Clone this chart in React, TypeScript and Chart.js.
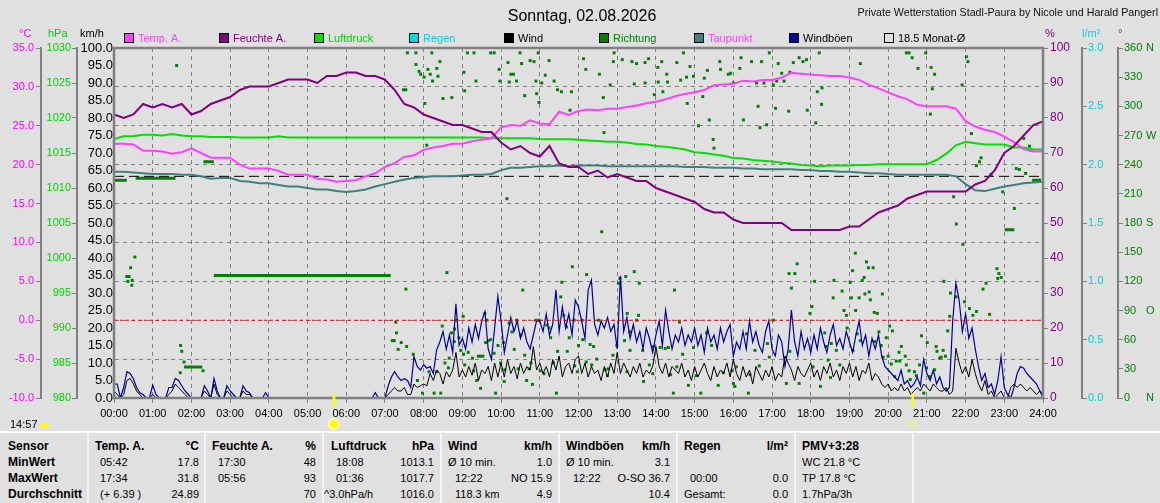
import React, { useEffect, useRef } from 'react';
import { Chart, registerables } from 'chart.js';

Chart.register(...registerables);

const FONT = '"Liberation Sans", Arial, Helvetica, sans-serif';

// ---------- DATA ----------
const titleText = 'Sonntag, 02.08.2026';
const creditText = 'Private Wetterstation Stadl-Paura by Nicole und Harald Pangerl';

const hourLabels = ['00:00', '01:00', '02:00', '03:00', '04:00', '05:00', '06:00', '07:00', '08:00', '09:00', '10:00', '11:00', '12:00',
  '13:00', '14:00', '15:00', '16:00', '17:00', '18:00', '19:00', '20:00', '21:00', '22:00', '23:00', '24:00'];

// 15-minute samples, 00:00 .. 24:00
const tempValues = [
  22.7, 22.7, 22.6, 21.8, 21.8, 21.7, 21.4, 21.6, 22.1, 21.5, 20.9, 20.9,
  20.9, 20.0, 19.5, 19.5, 19.5, 19.2, 18.7, 18.7, 18.7, 18.2, 18.1, 17.8,
  17.9, 18.0, 18.5, 18.9, 19.7, 20.2, 21.0, 21.2, 21.9, 22.2, 22.4, 22.7,
  22.7, 23.0, 23.2, 23.4, 24.8, 25.1, 25.0, 25.7, 25.3, 25.2, 26.8, 26.4,
  26.9, 27.1, 27.0, 27.2, 27.2, 27.4, 27.6, 27.9, 28.1, 28.4, 28.8, 29.1,
  29.3, 29.6, 30.2, 30.3, 30.4, 30.8, 30.7, 30.9, 30.9, 31.2, 31.8, 31.7,
  31.6, 31.5, 31.4, 31.4, 31.2, 30.9, 30.3, 29.8, 29.3, 28.8, 28.4, 27.7,
  27.5, 27.5, 27.5, 27.2, 25.6, 24.9, 24.5, 24.2, 23.6, 22.9, 22.0, 21.7,
  21.7,
];
const humidityValues = [
  81, 80, 81, 84, 83, 84, 83, 84, 81, 82, 84, 85,
  86, 88, 89, 89, 89, 90, 91, 91, 91, 90, 92, 92,
  93, 93, 92, 92, 91, 88, 84, 83, 81, 80, 79, 78,
  78, 77, 76, 76, 73, 71, 72, 70, 69, 72, 67, 66,
  66, 64, 65, 63, 64, 63, 62, 62, 60, 59, 58, 57,
  56, 54, 53, 53, 51, 50, 50, 50, 50, 50, 48, 48,
  48, 48, 48, 48, 49, 49, 51, 53, 54, 55, 57, 58,
  59, 59, 59, 59, 59, 61, 62, 65, 70, 72, 75, 78,
  79,
];
const pressureValues = [
  1017.0, 1017.4, 1017.4, 1017.6, 1017.6, 1017.5, 1017.7, 1017.5, 1017.4, 1017.4, 1017.3, 1017.3,
  1017.3, 1017.2, 1017.2, 1017.2, 1017.2, 1017.4, 1017.2, 1017.2, 1017.2, 1017.2, 1017.2, 1017.2,
  1017.2, 1017.2, 1017.2, 1017.2, 1017.2, 1017.2, 1017.2, 1017.2, 1017.2, 1017.2, 1017.2, 1017.2,
  1017.2, 1017.2, 1017.2, 1017.1, 1017.1, 1017.1, 1017.1, 1017.1, 1017.0, 1016.95, 1016.95, 1016.95,
  1016.9, 1016.8, 1016.7, 1016.6, 1016.6, 1016.5, 1016.3, 1016.2, 1016.0, 1015.9, 1015.7, 1015.5,
  1015.1, 1015.0, 1014.8, 1014.6, 1014.3, 1014.2, 1014.0, 1013.9, 1013.8, 1013.6, 1013.5, 1013.3,
  1013.2, 1013.1, 1013.2, 1013.2, 1013.2, 1013.3, 1013.3, 1013.4, 1013.4, 1013.4, 1013.4, 1013.4,
  1013.4, 1014.0, 1014.9, 1016.1, 1016.6, 1016.4, 1016.2, 1016.2, 1016.2, 1015.8, 1015.8, 1015.5,
  1015.5,
];
const dewpointValues = [
  19.1, 19.1, 19.0, 18.9, 18.8, 18.8, 18.8, 18.7, 18.7, 18.5, 18.2, 18.3,
  18.3, 17.9, 17.8, 17.6, 17.6, 17.4, 17.2, 17.2, 17.0, 16.8, 16.8, 16.6,
  16.5, 16.6, 16.8, 17.2, 17.5, 17.8, 18.1, 18.3, 18.4, 18.5, 18.5, 18.5,
  18.6, 18.7, 18.7, 18.8, 19.3, 19.6, 19.6, 19.7, 19.8, 19.8, 19.9, 19.8,
  19.9, 19.9, 19.9, 19.8, 19.8, 19.8, 19.8, 19.8, 19.8, 19.8, 19.8, 19.7,
  19.7, 19.7, 19.6, 19.6, 19.6, 19.5, 19.5, 19.4, 19.4, 19.4, 19.4, 19.3,
  19.3, 19.2, 19.2, 19.1, 19.1, 19.0, 18.9, 18.9, 18.8, 18.7, 18.7, 18.7,
  18.7, 18.7, 18.7, 18.5, 17.5, 16.7, 16.6, 16.9, 17.2, 17.4, 17.6, 17.7,
  17.8,
];

// 5-minute samples, 00:00 .. 24:00 (km/h)
const gustValues = [
  4, 4, 0, 3, 7.5, 7, 5.5, 3, 1.5, 1, 0, 0,
  3.7, 1, 0, 0, 0, 3, 3, 5.6, 5, 3.5, 2, 1,
  0, 0, 0, 0, 3.5, 2, 0, 5.6, 2, 0, 0, 3.5,
  2, 1, 0, 0, 3.5, 2, 1.5, 0, 0, 0, 0, 1.5,
  0, 0, 0, 0, 0, 0, 0, 0, 0, 0, 0, 0,
  0, 0, 0, 0, 0, 0, 0, 0, 0, 0, 0, 0,
  0, 0, 0, 0, 0, 0, 0, 0, 0, 1.5, 0, 0,
  0, 3.5, 6, 7.5, 6, 5, 5.5, 5, 3, 11.8, 9, 8,
  9.5, 8.5, 9, 7, 13.7, 16, 19, 14, 18, 13, 26.9, 15,
  17, 14, 20, 16, 21, 17, 22, 24.7, 14, 11, 20, 29,
  22, 13, 18, 23, 19, 22, 17, 20, 16, 14, 18, 22,
  22, 19, 24, 18, 21, 30.9, 19, 26, 20, 24, 18, 28,
  26, 22, 17, 30.9, 33.7, 21, 18, 22, 20, 23, 19, 21,
  14, 34.9, 19, 23, 17, 21, 16, 19, 14, 20, 17, 13,
  18, 22, 15, 25.1, 19, 14, 18, 16, 20, 15, 18, 16,
  20, 15, 18, 13, 20, 16, 18, 14, 20, 16, 19, 21,
  12, 16, 14, 19, 14, 22, 16, 19, 15, 13, 19, 22,
  14, 12, 18, 16, 9, 14, 25.1, 16, 12, 19, 14, 17,
  13, 18, 14, 20, 16, 13, 18, 21, 15, 17, 14, 19,
  16, 13, 18, 22, 15, 18, 12, 17, 14, 18, 12, 9,
  8, 7, 6, 5, 8, 4, 5, 3, 4, 6, 3.5, 11,
  7, 5, 8, 4, 6, 3, 2, 3, 22, 32.8, 28, 19,
  24, 17, 20, 14, 9, 5, 7, 3, 4, 1, 5, 11.8,
  3, 1, 0, 3, 7, 9, 8.5, 7, 6, 5, 4, 2,
  1,
];
const windValues = [
  2, 1, 0, 1, 5, 5.6, 4, 2, 1, 0, 0, 0,
  1, 0, 0, 0, 0, 1, 2, 4, 3, 2, 1, 0,
  0, 0, 0, 0, 2, 1, 0, 4, 1, 0, 0, 2,
  1, 0, 0, 0, 2, 1, 1, 0, 0, 0, 0, 0,
  0, 0, 0, 0, 0, 0, 0, 0, 0, 0, 0, 0,
  0, 0, 0, 0, 0, 0, 0, 0, 0, 0, 0, 0,
  0, 0, 0, 0, 0, 0, 0, 0, 0, 0, 0, 0,
  0, 1, 2, 3, 2, 2, 3, 1, 1, 4, 3, 3.5,
  4, 3.5, 7, 5, 8, 7, 4, 7.5, 6, 8, 13, 6,
  8, 6, 9, 6.5, 10, 5, 8, 7, 9, 5, 10, 6,
  10, 6, 11, 7, 9, 5.5, 10, 7, 9, 8, 14.7, 8,
  10, 7, 9, 6, 11, 8, 12, 6, 9, 10, 7, 11,
  12, 7, 10, 6, 9, 7, 8, 5, 9, 6, 10, 7,
  13, 7, 10, 8, 6, 9, 7, 10, 6, 8, 7, 9,
  14.7, 9, 7, 10, 6, 9, 8, 7, 10, 6, 8, 5,
  9, 6, 8, 10, 7, 5, 9, 6, 8, 7, 10, 6,
  11, 7, 5, 9, 6, 8, 4, 9, 7, 5, 8, 6,
  9, 5, 7, 6, 12, 10, 8, 5, 9, 7, 6, 8,
  10, 6, 8, 5, 9, 7, 10, 6, 8, 5, 9, 7,
  10, 6, 9, 5, 8, 7, 10, 5, 7, 6, 4, 3,
  4, 2, 3, 2, 4, 2, 3, 1, 2, 3, 2, 4,
  3, 2, 4, 3, 2, 2, 3, 1, 2, 14.2, 10, 7,
  9, 6, 11, 7, 4, 2, 5, 1, 2, 0, 1, 2,
  0, 0, 3, 4, 3, 4, 3, 2, 3, 2, 1, 2,
  0,
];

const rainHours = [0, 24];
const rainValues = [0, 0];
const monthAvgTemp = 18.5;
const frostTemp = 0;

// wind direction samples [hour, degrees]
const dirDots = [
  [0.33, 125], [0.36, 120], [0.39, 125], [0.43, 134], [0.46, 116], [0.47, 121], [0.54, 145],
  [1.62, 342], [1.71, 26], [1.72, 54], [1.75, 48], [1.81, 37], [2.30, 28],
  [7.19, 59], [7.24, 59], [7.28, 78], [7.30, 67], [7.34, 50], [7.42, 57], [7.48, 317], [7.54, 317], [7.54, 112], [7.56, 53], [7.58, 355], [7.73, 45], [7.80, 355], [7.80, 343], [7.84, 18], [7.88, 336], [7.92, 333], [7.97, 5],
  [8.01, 330], [8.03, 303], [8.08, 260], [8.11, 338], [8.14, 27], [8.17, 333], [8.21, 355], [8.23, 326], [8.27, 5], [8.34, 339], [8.34, 27], [8.37, 331], [8.42, 346], [8.44, 5], [8.48, 74], [8.50, 308], [8.55, 36], [8.60, 129], [8.64, 31], [8.66, 41], [8.72, 67], [8.73, 309], [8.79, 58], [8.80, 71], [8.85, 80], [8.91, 62], [8.96, 49],
  [9.02, 84], [9.03, 45], [9.04, 335], [9.06, 34], [9.06, 316], [9.13, 355], [9.15, 47], [9.26, 41], [9.29, 28], [9.30, 355], [9.35, 326], [9.37, 18], [9.41, 43], [9.47, 43], [9.53, 43], [9.47, 10], [9.58, 87], [9.60, 57], [9.63, 80], [9.67, 59], [9.73, 60], [9.73, 355], [9.82, 46], [9.82, 355], [9.86, 5], [9.92, 54], [9.95, 338], [9.97, 326], [9.99, 36],
  [10.06, 57], [10.08, 17], [10.10, 29], [10.15, 205], [10.18, 345], [10.21, 77], [10.21, 325], [10.25, 333], [10.28, 68], [10.32, 333], [10.34, 50], [10.40, 80], [10.40, 326], [10.44, 30], [10.49, 355], [10.51, 65], [10.53, 344], [10.56, 111], [10.61, 44], [10.61, 311], [10.66, 18], [10.72, 30], [10.75, 347], [10.77, 36], [10.81, 14], [10.85, 346], [10.90, 80], [10.90, 326], [10.92, 313], [10.96, 355], [10.98, 80], [10.98, 304],
  [11.01, 28], [11.05, 324], [11.11, 25], [11.14, 332], [11.18, 75], [11.24, 72], [11.24, 347], [11.28, 62], [11.35, 36], [11.37, 326], [11.43, 5], [11.46, 48], [11.46, 317], [11.54, 104], [11.56, 315], [11.57, 119], [11.62, 85], [11.69, 73], [11.71, 48], [11.76, 62], [11.78, 296], [11.82, 315], [11.84, 135], [11.89, 80], [11.90, 33], [11.97, 27],
  [12.00, 54], [12.09, 80], [12.11, 60], [12.13, 349], [12.19, 338], [12.20, 37], [12.21, 127], [12.30, 55], [12.34, 34], [12.39, 53], [12.47, 40], [12.52, 80], [12.54, 333], [12.60, 171], [12.64, 309], [12.66, 273], [12.69, 29], [12.75, 23], [12.77, 30], [12.82, 322], [12.89, 44], [12.90, 346], [12.92, 355], [12.99, 54],
  [13.03, 118], [13.07, 123], [13.13, 348], [13.19, 59], [13.22, 125], [13.25, 27], [13.26, 87], [13.32, 68], [13.33, 49], [13.38, 346], [13.44, 130], [13.44, 323], [13.50, 80], [13.50, 344], [13.55, 85], [13.57, 118], [13.66, 49], [13.68, 17], [13.72, 345], [13.72, 324], [13.81, 349], [13.83, 34], [13.92, 25], [13.93, 53], [13.96, 312],
  [14.05, 340], [14.06, 325], [14.11, 52], [14.15, 346], [14.18, 315], [14.24, 51], [14.28, 333], [14.30, 325], [14.32, 52], [14.38, 24], [14.45, 5], [14.48, 111], [14.54, 32], [14.54, 345], [14.61, 78], [14.64, 327], [14.69, 45], [14.71, 355], [14.79, 330], [14.81, 303], [14.84, 13], [14.88, 341], [14.97, 52], [14.97, 331],
  [15.04, 23], [15.10, 280], [15.16, 5], [15.21, 310], [15.25, 329], [15.31, 67], [15.33, 337], [15.38, 286], [15.44, 54], [15.48, 266], [15.50, 257], [15.61, 13], [15.65, 346], [15.67, 338], [15.74, 26], [15.87, 333], [15.93, 334], [15.96, 28],
  [16.00, 15], [16.00, 324], [16.04, 12], [16.08, 32], [16.17, 339], [16.20, 350], [16.26, 286], [16.34, 66], [16.39, 5], [16.43, 24], [16.47, 346], [16.56, 49], [16.60, 324], [16.64, 300], [16.67, 33], [16.69, 278], [16.73, 346], [16.79, 324], [16.86, 281], [16.88, 56], [16.93, 42], [16.93, 355],
  [17.03, 80], [17.03, 322], [17.09, 298], [17.12, 326], [17.16, 344], [17.25, 334], [17.31, 326], [17.37, 15], [17.43, 295], [17.44, 128], [17.46, 48], [17.46, 335], [17.50, 113], [17.55, 345], [17.59, 128], [17.65, 138], [17.70, 15], [17.70, 350], [17.80, 346], [17.89, 348], [17.91, 296], [17.98, 87],
  [18.03, 94], [18.06, 32], [18.10, 120], [18.13, 283], [18.17, 315], [18.22, 355], [18.25, 12], [18.28, 302], [18.29, 319], [18.36, 67], [18.39, 53], [18.45, 39], [18.51, 21], [18.53, 56], [18.58, 103], [18.60, 121], [18.66, 49], [18.75, 34], [18.81, 110], [18.86, 90], [18.92, 85], [18.94, 72],
  [19.02, 119], [19.05, 103], [19.08, 131], [19.09, 49], [19.15, 149], [19.16, 90], [19.20, 66], [19.25, 103], [19.28, 59], [19.28, 344], [19.33, 121], [19.38, 124], [19.40, 107], [19.44, 140], [19.49, 134], [19.51, 109], [19.54, 101], [19.61, 134], [19.64, 88], [19.65, 58], [19.72, 87], [19.76, 68], [19.82, 54], [19.85, 107], [19.87, 42], [19.95, 62],
  [20.00, 43], [20.04, 74], [20.08, 35], [20.11, 69], [20.17, 22], [20.21, 38], [20.28, 47], [20.30, 38], [20.34, 53], [20.44, 43], [20.47, 34], [20.47, 355], [20.54, 28], [20.54, 355], [20.57, 19], [20.62, 350], [20.68, 27], [20.73, 23], [20.77, 339], [20.81, 34], [20.86, 64], [20.92, 5], [20.97, 355], [20.99, 31],
  [21.01, 57], [21.07, 22], [21.09, 292], [21.11, 340], [21.14, 318], [21.20, 29], [21.20, 333], [21.24, 53], [21.26, 48], [21.33, 41], [21.37, 42], [21.42, 49], [21.44, 120], [21.48, 43], [21.54, 69], [21.59, 84], [21.61, 108], [21.69, 207], [21.76, 104], [21.76, 179], [21.91, 322], [21.93, 158], [21.97, 99],
  [22.02, 351], [22.06, 346], [22.10, 92], [22.15, 272], [22.19, 85], [22.28, 89], [22.28, 239], [22.36, 243], [22.40, 247], [22.45, 112], [22.53, 118], [22.62, 86], [22.66, 230], [22.81, 133], [22.83, 123], [22.86, 128], [22.92, 124], [22.96, 212],
  [23.26, 195], [23.31, 236], [23.39, 235], [23.50, 267], [23.55, 231], [23.65, 259], [23.69, 255],
];
// held direction during calm: [from hour, to hour, degrees]
const dirHolds = [
  [0, 0.33, 224], [0.56, 1.59, 226], [1.81, 2.28, 32], [2.31, 2.58, 243], [2.58, 7.15, 126],
  [23.01, 23.26, 173], [23.72, 23.95, 224],
];
const compassMarks = [[360, 'N'], [270, 'W'], [180, 'S'], [90, 'O'], [0, 'N']];

const sunrise = 5.68;
const sunset = 20.63;
const dayLength = '14:57';

const legendItems = [
  { label: 'Temp. A.', box: '#ff40ff', text: '#ff40ff' },
  { label: 'Feuchte A.', box: '#800080', text: '#800080' },
  { label: 'Luftdruck', box: '#00e000', text: '#00d000' },
  { label: 'Regen', box: '#00dce0', text: '#00d0e0' },
  { label: 'Wind', box: '#000000', text: '#000000' },
  { label: 'Richtung', box: '#008000', text: '#008000' },
  { label: 'Taupunkt', box: '#408080', text: '#ff40ff' },
  { label: 'Windböen', box: '#0000a0', text: '#000000' },
  { label: monthAvgTemp.toFixed(1) + ' Monat-Ø', box: null, text: '#000000' },
];

const sensorLabels = ['Sensor', 'MinWert', 'MaxWert', 'Durchschnitt'];
const tableColumns = [
  { head: 'Temp. A.', unit: '°C', left: ['05:42', '17:34', '(+ 6.39 )'], right: ['17.8', '31.8', '24.89'] },
  { head: 'Feuchte A.', unit: '%', left: ['17:30', '05:56', ''], right: ['48', '93', '70'] },
  { head: 'Luftdruck', unit: 'hPa', left: ['18:08', '01:36', '^3.0hPa/h'], right: ['1013.1', '1017.7', '1016.0'] },
  { head: 'Wind', unit: 'km/h', left: ['Ø 10 min.', '12:22', '118.3 km'], right: ['1.0', 'NO 15.9', '4.9'] },
  { head: 'Windböen', unit: 'km/h', left: ['Ø 10 min.', '12:22', ''], right: ['3.1', 'O-SO 36.7', '10.4'] },
  { head: 'Regen', unit: 'l/m²', left: ['', '00:00', 'Gesamt:'], right: ['', '0.0', '0.0'] },
];
const pmvLines = ['PMV+3:28', 'WC 21.8 °C', 'TP 17.8 °C', '1.7hPa/3h'];

// ---------- COLOURS ----------
const C = {
  bg: '#e0e0e0',
  grid: '#808080',
  temp: '#ff40ff',
  hum: '#800080',
  press: '#00e000',
  dew: '#408080',
  rain: '#3cc8d0',
  wind: '#000000',
  gust: '#0000a0',
  dir: '#008000',
};

const q15 = (vals: number[]) => vals.map((v, i) => ({ x: (i * 15) / 60, y: v }));
const q5 = (vals: number[]) => vals.map((v, i) => ({ x: (i * 5) / 60, y: v }));

const decorPlugin = {
  id: 'decor',
  afterDraw(chart: any) {
    const { ctx, chartArea: a, scales } = chart;
    ctx.save();
    // plot frame
    ctx.strokeStyle = C.grid;
    ctx.lineWidth = 2.5;
    ctx.strokeRect(a.left, a.top, a.right - a.left, a.bottom - a.top);

    // title + credit
    ctx.textBaseline = 'alphabetic';
    ctx.fillStyle = '#000';
    ctx.font = `16px ${FONT}`;
    ctx.textAlign = 'center';
    ctx.fillText(titleText, 582, 21);
    ctx.font = `10.7px ${FONT}`;
    ctx.textAlign = 'right';
    ctx.fillStyle = '#101010';
    ctx.fillText(creditText, 1158, 16);

    // axis units
    ctx.font = `11px ${FONT}`;
    ctx.textAlign = 'left';
    const units: [string, string, number][] = [
      ['°C', '#ff00ff', 19], ['hPa', '#00d000', 48], ['km/h', '#000', 80],
      ['%', C.hum, 1045], ['l/m²', '#00d0e0', 1082], ['°', C.dir, 1118],
    ];
    units.forEach(([t, c, x]) => { ctx.fillStyle = c; ctx.fillText(t, x, 37); });

    // legend
    legendItems.forEach((it, i) => {
      const x = 124 + i * 95;
      if (it.box) {
        ctx.fillStyle = it.box;
        ctx.fillRect(x, 33, 10, 10);
      }
      ctx.strokeStyle = '#000';
      ctx.lineWidth = 1;
      ctx.strokeRect(x + 0.5, 33.5, 9, 9);
      ctx.fillStyle = it.text;
      ctx.font = `11px ${FONT}`;
      ctx.fillText(it.label, x + 14, 42);
    });

    // compass letters
    ctx.fillStyle = C.dir;
    ctx.textBaseline = 'middle';
    ctx.font = `11px ${FONT}`;
    compassMarks.forEach(([v, l]) => {
      ctx.fillText(l as string, 1146, scales.yD.getPixelForValue(v as number));
    });

    // sunrise / sunset
    const xr = scales.x.getPixelForValue(sunrise);
    const xs = scales.x.getPixelForValue(sunset);
    ctx.fillStyle = '#ffff00';
    ctx.fillRect(xr - 1.2, 393, 2.6, 14);
    ctx.fillRect(xs - 1.2, 393, 2.6, 14);
    ctx.fillStyle = '#ffffb0';
    ctx.beginPath(); ctx.arc(xr, 424, 6, 0, Math.PI * 2); ctx.fill();
    ctx.fillStyle = '#ffff00';
    ctx.beginPath(); ctx.arc(xr, 424, 4, 0, Math.PI * 2); ctx.fill();
    ctx.strokeStyle = '#f0f080';
    ctx.lineWidth = 1.5;
    ctx.strokeRect(xs - 3, 421, 6, 6);

    // day length
    ctx.textBaseline = 'alphabetic';
    ctx.fillStyle = '#000';
    ctx.font = `11px ${FONT}`;
    ctx.fillText(dayLength, 10, 428);
    ctx.fillStyle = '#ffff00';
    ctx.beginPath(); ctx.arc(44.5, 427, 4.5, Math.PI, 0); ctx.closePath(); ctx.fill();
    ctx.restore();
  },
};

const tickFont = { family: FONT, size: 11 };

function buildConfig(): any {
  const holds: any[] = [];
  dirHolds.forEach(([t1, t2, d]) => {
    holds.push({ x: t1, y: d }, { x: t2, y: d }, { x: t2, y: null });
  });
  const lineBase = { pointRadius: 0, fill: false, tension: 0 };
  return {
    type: 'line',
    data: {
      datasets: [
        { ...lineBase, label: 'Feuchte A.', data: q15(humidityValues), yAxisID: 'yH', borderColor: C.hum, borderWidth: 2 },
        { ...lineBase, label: 'Temp. A.', data: q15(tempValues), yAxisID: 'yT', borderColor: C.temp, borderWidth: 2 },
        { ...lineBase, label: 'Taupunkt', data: q15(dewpointValues), yAxisID: 'yT', borderColor: C.dew, borderWidth: 2 },
        { ...lineBase, label: 'Luftdruck', data: q15(pressureValues), yAxisID: 'yP', borderColor: C.press, borderWidth: 2 },
        { ...lineBase, label: 'Regen', data: rainHours.map((h, i) => ({ x: h, y: rainValues[i] })), yAxisID: 'yR', borderColor: C.rain, borderWidth: 2 },
        { ...lineBase, label: 'Monat-Ø', data: [{ x: 0, y: monthAvgTemp }, { x: 24, y: monthAvgTemp }], yAxisID: 'yT', borderColor: '#000', borderWidth: 1, borderDash: [10, 5] },
        { ...lineBase, label: 'Frost', data: [{ x: 0, y: frostTemp }, { x: 24, y: frostTemp }], yAxisID: 'yT', borderColor: '#ff0000', borderWidth: 1, borderDash: [3, 3] },
        { ...lineBase, label: 'Wind', data: q5(windValues), yAxisID: 'yW', borderColor: C.wind, borderWidth: 1 },
        { ...lineBase, label: 'Windböen', data: q5(gustValues), yAxisID: 'yW', borderColor: C.gust, borderWidth: 1.2 },
        { ...lineBase, label: 'RichtungHalt', data: holds, yAxisID: 'yD', borderColor: C.dir, borderWidth: 3, spanGaps: false, borderCapStyle: 'butt' },
        {
          label: 'Richtung', data: dirDots.map(([t, d]) => ({ x: t, y: d })), yAxisID: 'yD', showLine: false,
          pointStyle: 'rect', pointRadius: 2.1, pointBorderWidth: 0, pointBackgroundColor: C.dir, borderColor: C.dir,
        },
      ],
    },
    options: {
      responsive: false,
      animation: false,
      devicePixelRatio: 1,
      events: [],
      layout: { padding: { top: 48, left: 0, right: 0, bottom: 0 } },
      plugins: { legend: { display: false }, tooltip: { enabled: false }, title: { display: false } },
      scales: {
        x: {
          type: 'linear', min: 0, max: 24,
          ticks: { stepSize: 1, autoSkip: false, maxRotation: 0, color: '#000', font: tickFont, padding: 4, callback: (v: number) => hourLabels[v] ?? '' },
          grid: { color: C.grid, lineWidth: 1, tickLength: 5, tickColor: C.grid, drawOnChartArea: true },
          border: { display: false, dash: [4, 4] },
          afterFit: (s: any) => { s.height = 34; },
        },
        yT: {
          position: 'left', weight: 2, min: -10, max: 35,
          ticks: { stepSize: 5, autoSkip: false, color: '#ff00ff', font: tickFont, padding: 2, callback: (v: number) => v.toFixed(1) },
          grid: { drawOnChartArea: true, color: C.grid, lineWidth: 1, tickLength: 5, tickColor: C.grid },
          border: { display: true, color: C.grid, width: 2, dash: [4, 4] },
          afterFit: (s: any) => { s.width = 41; },
        },
        yP: {
          position: 'left', weight: 1, min: 980, max: 1030,
          ticks: { stepSize: 5, autoSkip: false, color: '#00d000', font: tickFont, padding: 1, callback: (v: number) => String(v) },
          grid: { drawOnChartArea: false, tickLength: 5, tickColor: C.grid },
          border: { display: true, color: C.grid, width: 2 },
          afterFit: (s: any) => { s.width = 36; },
        },
        yW: {
          position: 'left', weight: 0, min: 0, max: 100,
          ticks: { stepSize: 5, autoSkip: false, color: '#000', font: { family: FONT, size: 13 }, padding: 1, callback: (v: number) => v.toFixed(1) },
          grid: { display: false, drawOnChartArea: false, drawTicks: false },
          border: { display: false },
          afterFit: (s: any) => { s.width = 37; },
        },
        yH: {
          position: 'right', weight: 0, min: 0, max: 100,
          ticks: { stepSize: 10, autoSkip: false, color: C.hum, font: { family: FONT, size: 12 }, padding: 2, callback: (v: number) => String(v) },
          grid: { drawOnChartArea: false, tickLength: 5, tickColor: C.grid },
          border: { display: false },
          afterFit: (s: any) => { s.width = 39; },
        },
        yR: {
          position: 'right', weight: 1, min: 0, max: 3,
          ticks: { stepSize: 0.5, autoSkip: false, color: '#00d0e0', font: { family: FONT, size: 11 }, padding: 1, callback: (v: number) => v.toFixed(1) },
          grid: { drawOnChartArea: false, tickLength: 5, tickColor: C.grid },
          border: { display: true, color: C.grid, width: 2 },
          afterFit: (s: any) => { s.width = 36; },
        },
        yD: {
          position: 'right', weight: 2, min: 0, max: 360,
          ticks: { stepSize: 30, autoSkip: false, color: C.dir, font: { family: FONT, size: 11 }, padding: 1, callback: (v: number) => String(v) },
          grid: { drawOnChartArea: false, tickLength: 5, tickColor: C.grid },
          border: { display: true, color: C.grid, width: 2 },
          afterFit: (s: any) => { s.width = 42; },
        },
      },
    },
    plugins: [decorPlugin],
  };
}

function Table() {
  const rowBase = [450, 466, 482, 498];
  const colL = [95, 212, 331, 448, 566, 684];
  const colR = [199, 316, 434, 552, 670, 788];
  const offs = [[5, 5, 5], [6, 6, 6], [5, 5, -7], [0, 7, 7], [0, 7, 7], [0, 6, 0]];
  const seps = [88, 205, 323, 441, 559, 677, 795, 913];
  const els: any[] = [];
  const put = (key: string, s: string, x: number, base: number, bold: boolean, right: boolean) => {
    if (!s) return;
    const st: any = {
      position: 'absolute', top: base - 11, lineHeight: '14px', whiteSpace: 'nowrap',
      fontSize: bold ? 12 : 11, fontWeight: bold ? 'bold' : 'normal', color: '#000',
    };
    if (right) st.right = 1160 - x; else st.left = x;
    els.push(<div key={key} style={st}>{s}</div>);
  };
  sensorLabels.forEach((s, r) => put('s' + r, s, 8, rowBase[r], true, false));
  tableColumns.forEach((col, c) => {
    put(`h${c}`, col.head, colL[c], rowBase[0], true, false);
    put(`u${c}`, col.unit, colR[c], rowBase[0], true, true);
    col.left.forEach((s, r) => put(`l${c}${r}`, s, colL[c] + offs[c][r], rowBase[r + 1], false, false));
    col.right.forEach((s, r) => put(`r${c}${r}`, s, colR[c], rowBase[r + 1], false, true));
  });
  pmvLines.forEach((s, r) => put('p' + r, s, 802, rowBase[r], r === 0, false));
  return (
    <>
      <div style={{ position: 'absolute', left: 0, top: 431, width: 1160, height: 2, background: '#f8f8f8' }} />
      {seps.map((x) => (
        <div key={'sep' + x} style={{ position: 'absolute', left: x - 1, top: 433, width: 2, height: 70, background: '#f4f4f4' }} />
      ))}
      {els}
    </>
  );
}

export default function App() {
  const ref = useRef<HTMLCanvasElement>(null);
  useEffect(() => {
    const chart = new Chart(ref.current as HTMLCanvasElement, buildConfig());
    return () => chart.destroy();
  }, []);
  return (
    <div style={{ position: 'absolute', left: 0, top: 0, width: 1160, height: 503, background: C.bg, overflow: 'hidden', fontFamily: FONT }}>
      <canvas ref={ref} width={1160} height={432} style={{ position: 'absolute', left: 0, top: 0, width: 1160, height: 432 }} />
      <Table />
    </div>
  );
}
